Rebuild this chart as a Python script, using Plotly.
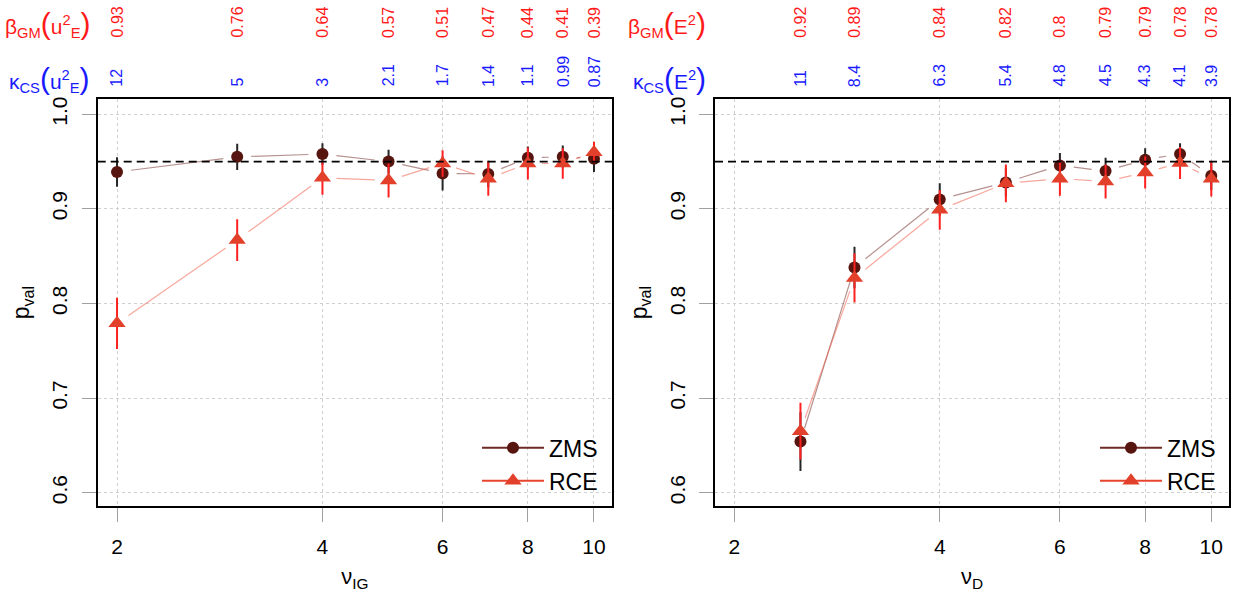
import numpy as np
import plotly.graph_objects as go

# ---- data -------------------------------------------------------------
nu_ig = [2, 3, 4, 5, 6, 7, 8, 9, 10]
zms_ig = [0.939, 0.955, 0.958, 0.950, 0.9375, 0.937, 0.954, 0.955, 0.953]
zms_ig_err = [0.0155, 0.014, 0.0115, 0.0125, 0.018, 0.014, 0.012, 0.012, 0.014]
rce_ig = [0.779, 0.867, 0.933, 0.930, 0.948, 0.932, 0.948, 0.948, 0.960]
rce_ig_err = [0.027, 0.022, 0.018, 0.018, 0.014, 0.018, 0.017, 0.016, 0.011]

nu_d = [2.5, 3, 4, 5, 6, 7, 8, 9, 10]
zms_d = [0.654, 0.838, 0.910, 0.928, 0.946, 0.940, 0.952, 0.958, 0.935]
zms_d_err = [0.031, 0.022, 0.017, 0.015, 0.013, 0.014, 0.012, 0.0115, 0.015]
rce_d = [0.665, 0.827, 0.899, 0.927, 0.932, 0.929, 0.9385, 0.9485, 0.932]
rce_d_err = [0.030, 0.026, 0.021, 0.020, 0.018, 0.018, 0.017, 0.017, 0.019]

beta_ig = ["0.93", "0.76", "0.64", "0.57", "0.51", "0.47", "0.44", "0.41", "0.39"]
kappa_ig = ["12", "5", "3", "2.1", "1.7", "1.4", "1.1", "0.99", "0.87"]
beta_d = ["0.92", "0.89", "0.84", "0.82", "0.8", "0.79", "0.79", "0.78", "0.78"]
kappa_d = ["11", "8.4", "6.3", "5.4", "4.8", "4.5", "4.3", "4.1", "3.9"]

x_ticks = [2, 4, 6, 8, 10]
y_ticks = [0.6, 0.7, 0.8, 0.9, 1.0]
p_target = 0.95

# ---- styling ----------------------------------------------------------
W, H = 1240, 599
FONT = "Liberation Sans, Arial, Helvetica, sans-serif"
XR = [0.2727, 1.0264]          # log10 range
YR = [0.5856, 1.0162]
DOM_L = [97.7 / W, 612 / W]
DOM_R = [715 / W, 1229.3 / W]
DOM_Y = [1 - 506 / H, 1 - 97.3 / H]
PW = (DOM_L[1] - DOM_L[0]) * W
PH = (DOM_Y[1] - DOM_Y[0]) * H

C_ZMS = "#571510"
C_ZMS_LINE = "rgba(120,55,50,0.55)"
C_ZMS_ERR = "#262626"
C_RCE = "#e2402a"
C_RCE_LINE = "rgba(240,95,75,0.55)"
C_RCE_ERR = "#ff2020"


def gapped_segments(xs, ys, gap=14.0):
    """Connect consecutive points but leave a gap around each marker."""
    px = (np.log10(xs) - XR[0]) / (XR[1] - XR[0]) * PW
    py = (np.asarray(ys) - YR[0]) / (YR[1] - YR[0]) * PH
    sx, sy = [], []
    for i in range(len(xs) - 1):
        dx, dy = px[i + 1] - px[i], py[i + 1] - py[i]
        d = np.hypot(dx, dy)
        if d <= 2 * gap:
            continue
        ux, uy = dx / d, dy / d
        for (qx, qy) in [(px[i] + ux * gap, py[i] + uy * gap),
                         (px[i + 1] - ux * gap, py[i + 1] - uy * gap)]:
            sx.append(10 ** (XR[0] + qx / PW * (XR[1] - XR[0])))
            sy.append(YR[0] + qy / PH * (YR[1] - YR[0]))
        sx.append(None)
        sy.append(None)
    return sx, sy


fig = go.Figure()


def add_panel(xa, ya, legend, xs, zms, zms_err, rce, rce_err):
    sx, sy = gapped_segments(xs, zms)
    fig.add_trace(go.Scatter(x=sx, y=sy, mode="lines", xaxis=xa, yaxis=ya,
                             line=dict(color=C_ZMS_LINE, width=1.2),
                             showlegend=False, hoverinfo="skip"))
    fig.add_trace(go.Scatter(x=xs, y=zms, mode="markers", xaxis=xa, yaxis=ya,
                             marker=dict(symbol="circle", size=12, color=C_ZMS),
                             error_y=dict(type="data", array=zms_err, color=C_ZMS_ERR,
                                          thickness=2, width=0),
                             showlegend=False))
    sx, sy = gapped_segments(xs, rce)
    fig.add_trace(go.Scatter(x=sx, y=sy, mode="lines", xaxis=xa, yaxis=ya,
                             line=dict(color=C_RCE_LINE, width=1.2),
                             showlegend=False, hoverinfo="skip"))
    fig.add_trace(go.Scatter(x=xs, y=rce, mode="markers", xaxis=xa, yaxis=ya,
                             marker=dict(symbol="triangle-up", size=15, color=C_RCE),
                             error_y=dict(type="data", array=rce_err, color=C_RCE_ERR,
                                          thickness=2, width=0),
                             showlegend=False))
    # legend entries
    fig.add_trace(go.Scatter(x=[None], y=[None], mode="lines+markers", name="ZMS",
                             xaxis=xa, yaxis=ya, legend=legend,
                             line=dict(color="#6e2a25", width=2),
                             marker=dict(symbol="circle", size=12, color=C_ZMS)))
    fig.add_trace(go.Scatter(x=[None], y=[None], mode="lines+markers", name="RCE",
                             xaxis=xa, yaxis=ya, legend=legend,
                             line=dict(color="#e8452e", width=2),
                             marker=dict(symbol="triangle-up", size=15, color=C_RCE)))


add_panel("x", "y", "legend", nu_ig, zms_ig, zms_ig_err, rce_ig, rce_ig_err)
add_panel("x2", "y2", "legend2", nu_d, zms_d, zms_d_err, rce_d, rce_d_err)

tickfont = dict(family=FONT, size=21, color="black")
xcommon = dict(type="log", range=XR, tickvals=x_ticks, ticktext=[str(v) for v in x_ticks],
               ticks="outside", ticklen=14, tickwidth=1, tickcolor="#a0a0a0",
               showgrid=True, gridcolor="#d0d0d0", griddash="dot", gridwidth=1,
               showline=True, mirror=True, linecolor="black", linewidth=2,
               zeroline=False, tickfont=tickfont, ticklabelstandoff=6,
               title_font=dict(family=FONT, size=22, color="black"), title_standoff=12)
ycommon = dict(range=YR, tickvals=y_ticks, ticktext=[f"{v:.1f}" for v in y_ticks],
               ticks="outside", ticklen=14, tickwidth=1, tickcolor="#a0a0a0",
               tickangle=-90, showgrid=True, gridcolor="#d0d0d0", griddash="dot",
               gridwidth=1, showline=True, mirror=True, linecolor="black", linewidth=2,
               zeroline=False, tickfont=tickfont, ticklabelstandoff=6,
               title=dict(text="p<sub>val</sub>", standoff=12,
                          font=dict(family=FONT, size=23, color="black")))
topcommon = dict(type="log", range=XR, side="top", ticks="outside", ticklen=9,
                 tickwidth=1, tickcolor="#1a1aff", showticklabels=False,
                 showgrid=False, showline=False, zeroline=False)

legend_style = dict(xanchor="left", yanchor="bottom", bgcolor="rgba(0,0,0,0)",
                    itemwidth=62, tracegroupgap=0,
                    font=dict(family=FONT, size=23, color="black"))

fig.update_layout(
    width=W, height=H, margin=dict(l=0, r=0, t=0, b=0),
    plot_bgcolor="white", paper_bgcolor="white",
    font=dict(family=FONT, color="black"),
    xaxis=dict(domain=DOM_L, anchor="y", title=dict(text="ν<sub>IG</sub>"), **xcommon),
    xaxis2=dict(domain=DOM_R, anchor="y2", title=dict(text="ν<sub>D</sub>"), **xcommon),
    xaxis3=dict(overlaying="x", anchor="y", tickvals=nu_ig, **topcommon),
    xaxis4=dict(overlaying="x2", anchor="y2", tickvals=nu_d, **topcommon),
    yaxis=dict(domain=DOM_Y, anchor="x", **ycommon),
    yaxis2=dict(domain=DOM_Y, anchor="x2", **ycommon),
    legend=dict(x=477 / W, y=1 - 502 / H, **legend_style),
    legend2=dict(x=1095 / W, y=1 - 502 / H, **legend_style),
)

# reference level
for xa, ya in [("x", "y"), ("x2", "y2")]:
    fig.add_shape(type="line", xref=f"{xa} domain", yref=ya, x0=0, x1=1,
                  y0=p_target, y1=p_target,
                  line=dict(color="black", width=1.6, dash="8px,5px"))

# top scale annotations (rotated value rows)
ann = []
for xa, xs, beta, kappa in [("x", nu_ig, beta_ig, kappa_ig), ("x2", nu_d, beta_d, kappa_d)]:
    for v, b, k in zip(xs, beta, kappa):
        ann.append(dict(xref=xa, yref="paper", x=np.log10(v), y=1 - 38 / H,
                        text=b, textangle=-90, showarrow=False,
                        xanchor="center", yanchor="bottom",
                        font=dict(family=FONT, size=16, color="#ff1a1a")))
        ann.append(dict(xref=xa, yref="paper", x=np.log10(v), y=1 - 87 / H,
                        text=k, textangle=-90, showarrow=False,
                        xanchor="center", yanchor="bottom",
                        font=dict(family=FONT, size=16, color="#1a1aff")))

big = '<span style="font-size:30px">'
labels = [
    (92, 22, "#ff1a1a", f"β<sub>GM</sub>{big}(</span>u<sup>2</sup><sub>E</sub>{big})</span>"),
    (92, 77, "#1a1aff", f"κ<sub>CS</sub>{big}(</span>u<sup>2</sup><sub>E</sub>{big})</span>"),
    (708, 22, "#ff1a1a", f"β<sub>GM</sub>{big}(</span>E<sup>2</sup>{big})</span>"),
    (708, 77, "#1a1aff", f"κ<sub>CS</sub>{big}(</span>E<sup>2</sup>{big})</span>"),
]
for px, py, col, txt in labels:
    ann.append(dict(xref="paper", yref="paper", x=px / W, y=1 - py / H, text=txt,
                    showarrow=False, xanchor="right", yanchor="middle",
                    font=dict(family=FONT, size=21, color=col)))
fig.update_layout(annotations=ann)

fig.write_html("out.html")
